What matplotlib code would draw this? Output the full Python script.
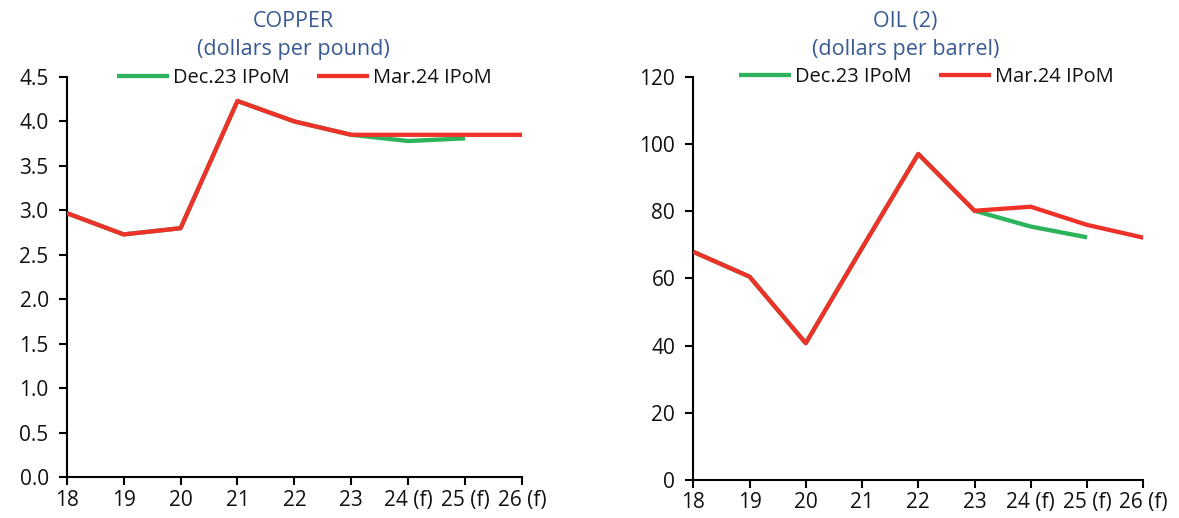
import matplotlib
matplotlib.use("Agg")
import matplotlib.pyplot as plt
import numpy as np

plt.rcParams["font.family"] = ["Open Sans", "DejaVu Sans"]

years = ["18", "19", "20", "21", "22", "23", "24 (f)", "25 (f)", "26 (f)"]

copper_dec23 = [2.97, 2.73, 2.80, 4.23, 4.00, 3.85, 3.78, 3.81]
copper_mar24 = [2.97, 2.73, 2.80, 4.23, 4.00, 3.85, 3.85, 3.85, 3.85]

oil_dec23 = [67.9, 60.5, 40.7, 69.0, 97.0, 80.1, 75.4, 72.2]
oil_mar24 = [67.9, 60.5, 40.7, 69.0, 97.0, 80.1, 81.3, 75.9, 72.1]

series_labels = ["Dec.23 IPoM", "Mar.24 IPoM"]
GREEN = "#2DB35B"
RED = "#EE3129"
TITLE_BLUE = "#3A5A94"
TICK_FS = 15
LEG_FS = 14.4
TITLE_FS = 15.5

fig = plt.figure(figsize=(11.79, 5.18), dpi=100)
ax1 = fig.add_axes([0.0566, 0.0786, 0.3862, 0.7728])
ax2 = fig.add_axes([0.5880, 0.0734, 0.3817, 0.7786])


def style(ax, dec, mar, ylim, yticks, fmt, leg_x):
    x = np.arange(len(years))
    ax.plot(x[:len(dec)], dec, color=GREEN, lw=3.1, label=series_labels[0],
            solid_capstyle="butt", zorder=2)
    ax.plot(x[:len(mar)], mar, color=RED, lw=3.1, label=series_labels[1],
            solid_capstyle="butt", zorder=3)
    ax.set_xlim(0, len(years) - 1)
    ax.set_ylim(*ylim)
    ax.set_xticks(x)
    ax.set_xticklabels(years)
    ax.set_yticks(yticks)
    ax.set_yticklabels([fmt.format(v) for v in yticks])
    for s in ("top", "right"):
        ax.spines[s].set_visible(False)
    for s in ("left", "bottom"):
        ax.spines[s].set_linewidth(1.5)
        ax.spines[s].set_color("black")
    ax.tick_params(axis="both", direction="out", length=6, width=1.5,
                   labelsize=TICK_FS, colors="black", labelcolor="#111111")
    ax.tick_params(axis="x", pad=3)
    ax.tick_params(axis="y", pad=7)
    leg = ax.legend(loc="center", bbox_to_anchor=(leg_x, 0.998), ncol=2,
                    frameon=False, fontsize=LEG_FS, handlelength=2.6,
                    handletextpad=0.2, columnspacing=1.4,
                    borderaxespad=0.0)
    for t in leg.get_texts():
        t.set_color("#111111")


style(ax1, copper_dec23, copper_mar24, (0, 4.5),
      np.arange(0, 4.51, 0.5), "{:.1f}", 0.522)
style(ax2, oil_dec23, oil_mar24, (0, 120),
      np.arange(0, 121, 20), "{:.0f}", 0.518)

fig.text(0.2485, 0.958, "COPPER", ha="center", va="center",
         color=TITLE_BLUE, fontsize=TITLE_FS)
fig.text(0.2485, 0.905, "(dollars per pound)", ha="center", va="center",
         color=TITLE_BLUE, fontsize=TITLE_FS)
fig.text(0.768, 0.958, "OIL (2)", ha="center", va="center",
         color=TITLE_BLUE, fontsize=TITLE_FS)
fig.text(0.768, 0.905, "(dollars per barrel)", ha="center", va="center",
         color=TITLE_BLUE, fontsize=TITLE_FS)

fig.savefig("out.png", dpi=100, facecolor="white")
